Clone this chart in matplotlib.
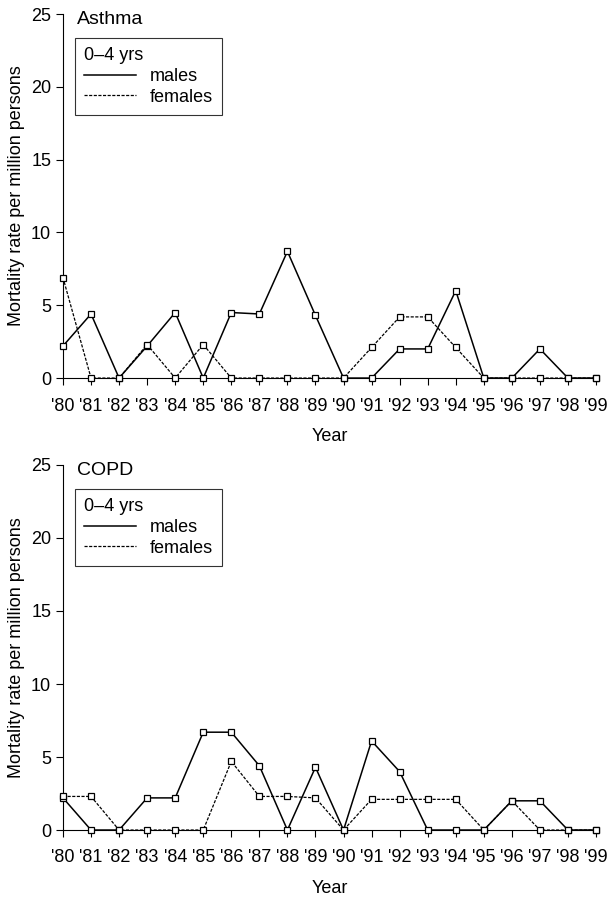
import matplotlib
matplotlib.use("Agg")
import matplotlib.pyplot as plt
import numpy as np

plt.rcParams["font.family"] = ["Liberation Sans", "DejaVu Sans"]
plt.rcParams["font.size"] = 13

years = list(range(1980, 2000))
year_labels = ["'%02d" % (y % 100) for y in years]

asthma_males = [2.2, 4.4, 0, 2.2, 4.5, 0, 4.5, 4.4, 8.7, 4.3,
                0, 0, 2.0, 2.0, 6.0, 0, 0, 2.0, 0, 0]
asthma_females = [6.9, 0, 0, 2.3, 0, 2.3, 0, 0, 0, 0,
                  0, 2.1, 4.2, 4.2, 2.1, 0, 0, 0, 0, 0]

copd_males = [2.2, 0, 0, 2.2, 2.2, 6.7, 6.7, 4.4, 0, 4.3,
              0, 6.1, 4.0, 0, 0, 0, 2.0, 2.0, 0, 0]
copd_females = [2.3, 2.3, 0, 0, 0, 0, 4.7, 2.3, 2.3, 2.2,
                0, 2.1, 2.1, 2.1, 2.1, 0, 2.0, 0, 0, 0]

panels = [("Asthma", asthma_males, asthma_females),
          ("COPD", copd_males, copd_females)]

fig = plt.figure(figsize=(6.09, 8.98), dpi=100)
boxes = [[0.1034, 0.579, 0.8753, 0.4054], [0.1034, 0.0757, 0.8753, 0.4065]]

for (title, males, females), box in zip(panels, boxes):
    ax = fig.add_axes(box)
    ax.plot(years, males, color="black", lw=1.1, ls="-", marker="s", ms=5,
            mfc="white", mec="black", mew=0.9, label="males", clip_on=False, zorder=3)
    ax.plot(years, females, color="black", lw=0.9, ls=(0, (2.5, 1.2)), marker="s", ms=5,
            mfc="white", mec="black", mew=0.9, label="females", clip_on=False, zorder=3)
    ax.set_xlim(1980, 1999)
    ax.set_ylim(0, 25)
    ax.set_yticks([0, 5, 10, 15, 20, 25])
    ax.set_xticks(years)
    ax.set_xticklabels(year_labels)
    ax.spines["top"].set_visible(False)
    ax.spines["right"].set_visible(False)
    ax.spines["left"].set_linewidth(0.8)
    ax.spines["bottom"].set_linewidth(0.8)
    ax.tick_params(direction="out", length=5, width=0.8, labelsize=13)
    ax.tick_params(axis="x", pad=9)
    ax.set_ylabel("Mortality rate per million persons", fontsize=13, labelpad=4)
    ax.set_xlabel("Year", fontsize=13, labelpad=10)
    ax.text(0.027, 1.008, title, transform=ax.transAxes, fontsize=14,
            ha="left", va="top")
    leg = ax.legend(title="0–4 yrs", loc="upper left", bbox_to_anchor=(0.022, 0.933),
                    frameon=True, fancybox=False, edgecolor="black",
                    handlelength=2.9, handletextpad=0.75, borderpad=0.5,
                    labelspacing=0.2, fontsize=13, title_fontsize=13,
                    alignment="left", borderaxespad=0)
    leg.get_frame().set_linewidth(0.8)
    for h in leg.legend_handles:
        h.set_marker("")

fig.savefig("out.png", dpi=100)
